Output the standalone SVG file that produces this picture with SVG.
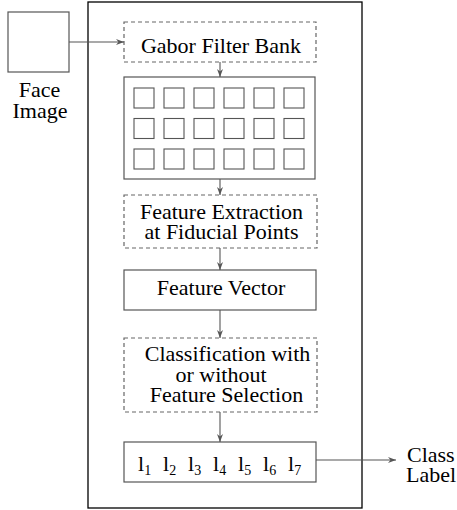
<svg xmlns="http://www.w3.org/2000/svg" width="457" height="510" viewBox="0 0 457 510">
<style>
text{font-size:22px;fill:#000}
.m{text-anchor:middle}
.box{fill:none;stroke:#555;stroke-width:1.2}
.dash{fill:none;stroke:#666;stroke-width:1.2;stroke-dasharray:4,3}
.cell{fill:none;stroke:#555;stroke-width:1.1}
.conn{fill:none;stroke:#555;stroke-width:1.1;marker-end:url(#ah)}
.sub{font-size:14px}
</style>
<defs>
<marker id="ah" markerWidth="9" markerHeight="7" refX="8" refY="3.5" orient="auto" markerUnits="userSpaceOnUse">
<path d="M0,0.5 L8,3.5 L0,6.5 L2.5,3.5 z" fill="#555"/>
</marker>
</defs>
<rect id="outer" x="88" y="2" width="274" height="506" fill="none" stroke="#000" stroke-width="1.3"/>
<g font-family="'Liberation Serif', 'DejaVu Serif', serif">
<g id="face-image">
<rect x="8" y="12" width="61" height="60" class="box"/>
<text class="m" x="39.5" y="97">Face</text>
<text class="m" x="40" y="118">Image</text>
</g>
<g id="gabor">
<rect x="124" y="22" width="192" height="40" class="dash"/>
<text class="m" x="221" y="53">Gabor Filter Bank</text>
</g>
<g id="responses">
<rect x="124" y="77" width="191" height="102" class="box"/>
<g class="cell">
<rect x="134" y="88" width="20" height="20"/><rect x="164" y="88" width="20" height="20"/><rect x="194" y="88" width="20" height="20"/><rect x="224" y="88" width="20" height="20"/><rect x="254" y="88" width="20" height="20"/><rect x="284" y="88" width="20" height="20"/>
<rect x="134" y="118.5" width="20" height="20"/><rect x="164" y="118.5" width="20" height="20"/><rect x="194" y="118.5" width="20" height="20"/><rect x="224" y="118.5" width="20" height="20"/><rect x="254" y="118.5" width="20" height="20"/><rect x="284" y="118.5" width="20" height="20"/>
<rect x="134" y="149" width="20" height="20"/><rect x="164" y="149" width="20" height="20"/><rect x="194" y="149" width="20" height="20"/><rect x="224" y="149" width="20" height="20"/><rect x="254" y="149" width="20" height="20"/><rect x="284" y="149" width="20" height="20"/>
</g>
</g>
<g id="feature-extraction">
<rect x="124" y="195" width="193" height="53" class="dash"/>
<text class="m" x="221.5" y="219">Feature Extraction</text>
<text class="m" x="221.5" y="239">at Fiducial Points</text>
</g>
<g id="feature-vector">
<rect x="124" y="270" width="192" height="40" class="box"/>
<text class="m" x="221" y="295">Feature Vector</text>
</g>
<g id="classification">
<rect x="124" y="338" width="193" height="74" class="dash"/>
<text class="m" x="227.5" y="361">Classification with</text>
<text class="m" x="221" y="382">or without</text>
<text class="m" x="226.5" y="402">Feature Selection</text>
</g>
<g id="labels">
<rect x="124" y="442" width="192" height="40" class="box"/>
<text x="138" y="470.5">l<tspan class="sub" dy="4">1</tspan></text>
<text x="163" y="470.5">l<tspan class="sub" dy="4">2</tspan></text>
<text x="188" y="470.5">l<tspan class="sub" dy="4">3</tspan></text>
<text x="213" y="470.5">l<tspan class="sub" dy="4">4</tspan></text>
<text x="238" y="470.5">l<tspan class="sub" dy="4">5</tspan></text>
<text x="263" y="470.5">l<tspan class="sub" dy="4">6</tspan></text>
<text x="288" y="470.5">l<tspan class="sub" dy="4">7</tspan></text>
</g>
<g id="class-label">
<text x="407" y="462">Class</text>
<text x="406" y="482">Label</text>
</g>
</g>
<g id="connectors">
<line class="conn" x1="69" y1="42" x2="124" y2="42"/>
<line class="conn" x1="220" y1="62" x2="220" y2="77"/>
<line class="conn" x1="220" y1="179" x2="220" y2="195"/>
<line class="conn" x1="220" y1="248" x2="220" y2="270"/>
<line class="conn" x1="220" y1="310" x2="220" y2="338"/>
<line class="conn" x1="220" y1="412" x2="220" y2="442"/>
<line class="conn" x1="316" y1="460" x2="396" y2="460"/>
</g>
</svg>
